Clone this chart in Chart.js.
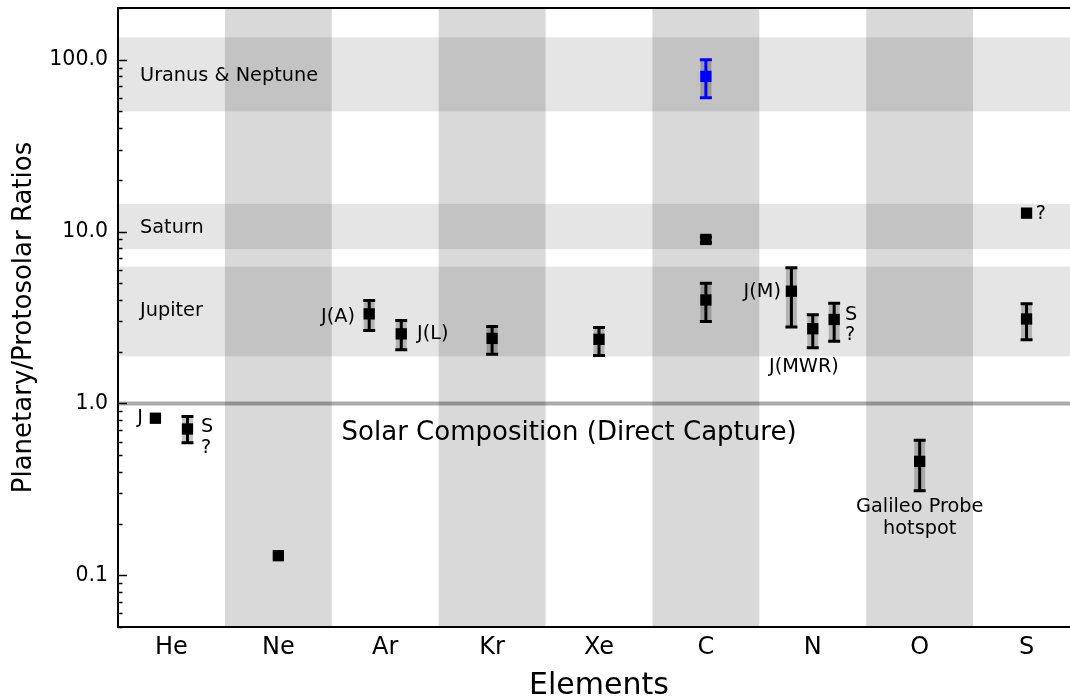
<!DOCTYPE html>
<html><head><meta charset="utf-8">
<script src="https://cdn.jsdelivr.net/npm/chart.js@4.4.0/dist/chart.umd.min.js"></script>
<style>
html,body{margin:0;padding:0;overflow:hidden;background:#fff;width:1070px;height:700px}
#wrap{position:absolute;left:0;top:0;width:1090px;height:700px}
</style>
</head><body><div id="wrap"><canvas id="c" width="1090" height="700"></canvas></div>
<script>
const elements = ['He','Ne','Ar','Kr','Xe','C','N','O','S'];
// black measurements (Jupiter / Saturn)
const ptX  = [-0.15, 0.15, 1, 1.85, 2.15, 3, 4, 5, 5, 5.8, 6, 6.2, 7, 8, 8];
const ptY  = [0.82, 0.71, 0.13, 3.32, 2.54, 2.39, 2.36, 9.0, 4.0, 4.5, 2.72, 3.08, 0.46, 12.8, 3.1];
const ptLo = [null, 0.59, null, 2.66, 2.05, 1.93, 1.90, 8.6, 3.0, 2.78, 2.11, 2.30, 0.31, null, 2.35];
const ptHi = [null, 0.84, null, 3.97, 3.04, 2.80, 2.77, 9.3, 5.0, 6.15, 3.28, 3.83, 0.61, null, 3.80];
// blue measurement (Uranus & Neptune)
const blueX = [5];
const blueY = [80];
const blueLo = [60];
const blueHi = [100];
// shaded element columns and planet bands
const shadedCols = [1, 3, 5, 7];
const bandNames = ['Uranus & Neptune', 'Saturn', 'Jupiter'];
const bandLo = [50, 7.9, 1.88];
const bandHi = [135, 14.5, 6.25];
const solarLevel = 1.0;
const yTickValues = [0.1, 1, 10, 100];
const yTickLabels = ['0.1', '1.0', '10.0', '100.0'];

const notes = [
  {t:'Uranus & Neptune', x:-0.294, y:80.7, a:'left'},
  {t:'Saturn', x:-0.294, y:10.5, a:'left'},
  {t:'Jupiter', x:-0.294, y:3.47, a:'left'},
  {t:'Solar Composition (Direct Capture)', x:3.72, y:0.669, a:'center', big:true},
  {t:'J', x:-0.266, y:0.82, a:'right'},
  {t:'S', x:0.276, y:0.732, a:'left'},
  {t:'?', x:0.276, y:0.549, a:'left'},
  {t:'J(A)', x:1.717, y:3.2, a:'right'},
  {t:'J(L)', x:2.297, y:2.52, a:'left'},
  {t:'J(M)', x:5.702, y:4.48, a:'right'},
  {t:'J(MWR)', x:5.917, y:1.64, a:'center'},
  {t:'S', x:6.301, y:3.25, a:'left'},
  {t:'?', x:6.301, y:2.49, a:'left'},
  {t:'Galileo Probe', x:7.0, y:0.2485, a:'center'},
  {t:'hotspot', x:7.0, y:0.185, a:'center'},
  {t:'?', x:8.087, y:12.7, a:'left'}
];

const FF = "'DejaVu Sans', sans-serif";
const blackPts = ptX.map((x, i) => ({x, y: ptY[i]}));
const bluePts = blueX.map((x, i) => ({x, y: blueY[i]}));

const yAllTicks = [];
for (let e = -2; e <= 2; e++) {
  for (let m = 1; m <= 9; m++) {
    const v = parseFloat((m * Math.pow(10, e)).toPrecision(6));
    if (v >= 0.05 && v <= 200) yAllTicks.push(v);
  }
}

const bgPlugin = {
  id: 'bg',
  beforeDatasetsDraw(chart) {
    const {ctx, chartArea: ca, scales: {x, y}} = chart;
    ctx.save();
    ctx.beginPath(); ctx.rect(ca.left, ca.top, ca.right - ca.left, ca.bottom - ca.top); ctx.clip();
    ctx.fillStyle = 'rgba(0,0,0,0.15)';
    shadedCols.forEach(i => {
      const l = x.getPixelForValue(i - 0.5), r = x.getPixelForValue(i + 0.5);
      ctx.fillRect(l, ca.top, r - l, ca.bottom - ca.top);
    });
    ctx.fillStyle = 'rgba(0,0,0,0.10)';
    bandNames.forEach((n, i) => {
      const t = y.getPixelForValue(bandHi[i]), b = y.getPixelForValue(bandLo[i]);
      ctx.fillRect(ca.left, t, ca.right - ca.left, b - t);
    });
    ctx.strokeStyle = 'rgba(0,0,0,0.33)';
    ctx.lineWidth = 4;
    const sy = y.getPixelForValue(solarLevel);
    ctx.beginPath(); ctx.moveTo(ca.left, sy); ctx.lineTo(ca.right, sy); ctx.stroke();
    // error bars
    const drawErr = (xs, lo, hi, col) => {
      xs.forEach((xv, i) => {
        if (lo[i] == null) return;
        const px = x.getPixelForValue(xv);
        const pt = y.getPixelForValue(hi[i]), pb = y.getPixelForValue(lo[i]);
        ctx.fillStyle = 'rgba(0,0,0,0.22)';
        ctx.fillRect(px - 5.5, pt, 11, pb - pt);
        ctx.strokeStyle = col; ctx.lineWidth = 3;
        ctx.beginPath();
        ctx.moveTo(px, pt); ctx.lineTo(px, pb);
        ctx.moveTo(px - 6, pt); ctx.lineTo(px + 6, pt);
        ctx.moveTo(px - 6, pb); ctx.lineTo(px + 6, pb);
        ctx.stroke();
      });
    };
    drawErr(ptX, ptLo, ptHi, '#000');
    drawErr(blueX, blueLo, blueHi, '#0000ff');
    ctx.restore();
  },
  afterDatasetsDraw(chart) {
    const {ctx, scales: {x, y}} = chart;
    ctx.save();
    ctx.fillStyle = '#000';
    ctx.textBaseline = 'middle';
    notes.forEach(n => {
      ctx.font = (n.big ? '26px ' : '19.3px ') + FF;
      ctx.textAlign = n.a;
      ctx.fillText(n.t, x.getPixelForValue(n.x), y.getPixelForValue(n.y));
    });
    ctx.restore();
  },
  afterDraw(chart) {
    const {ctx, chartArea: ca, scales: {y}} = chart;
    ctx.save();
    ctx.strokeStyle = '#000';
    ctx.lineWidth = 1.5;
    yAllTicks.forEach(v => {
      const py = Math.round(y.getPixelForValue(v)) + 0.5;
      const major = yTickValues.includes(v);
      const len = major ? 9 : 4.5;
      ctx.beginPath(); ctx.moveTo(ca.left, py); ctx.lineTo(ca.left + len, py); ctx.stroke();
    });
    ctx.lineWidth = 2;
    ctx.beginPath(); ctx.moveTo(ca.left - 1, ca.top); ctx.lineTo(ca.right, ca.top); ctx.stroke();
    ctx.restore();
  }
};

new Chart(document.getElementById('c'), {
  type: 'scatter',
  data: {
    datasets: [
      {data: blackPts, backgroundColor: '#000', borderColor: '#000', pointStyle: 'rect', pointRadius: 8, borderWidth: 0},
      {data: bluePts, backgroundColor: '#0000ff', borderColor: '#0000ff', pointStyle: 'rect', pointRadius: 8, borderWidth: 0}
    ]
  },
  options: {
    responsive: false,
    animation: false,
    events: [],
    layout: {padding: {left: 0, top: 6, right: 10, bottom: 0}},
    plugins: {legend: {display: false}, tooltip: {enabled: false}},
    scales: {
      x: {
        type: 'linear', min: -0.5, max: 8.5,
        grid: {display: false},
        border: {display: true, color: '#000', width: 2},
        afterBuildTicks: s => { s.ticks = elements.map((_, i) => ({value: i})); },
        ticks: {callback: v => elements[v], autoSkip: false, maxRotation: 0, color: '#000', font: {family: FF, size: 24}, padding: -2},
        title: {display: true, text: 'Elements', color: '#000', font: {family: FF, size: 30, lineHeight: 1}, padding: {top: 0, bottom: -1}},
        afterFit: s => { s.height = 73; }
      },
      y: {
        type: 'logarithmic', min: 0.05, max: 200,
        grid: {display: false},
        border: {display: true, color: '#000', width: 2},
        afterBuildTicks: s => { s.ticks = yAllTicks.map(v => ({value: v})); },
        ticks: {
          callback: v => { const k = yTickValues.indexOf(v); return k >= 0 ? yTickLabels[k] : ''; },
          autoSkip: false, color: '#000', font: {family: FF, size: 20.5, lineHeight: 0.05}, padding: 2
        },
        title: {display: true, text: 'Planetary/Protosolar Ratios', color: '#000', font: {family: FF, size: 26, lineHeight: 1}, padding: {top: 11, bottom: 0}},
        afterFit: s => { s.width = 118; }
      }
    }
  },
  plugins: [bgPlugin]
});
</script>
</body></html>
